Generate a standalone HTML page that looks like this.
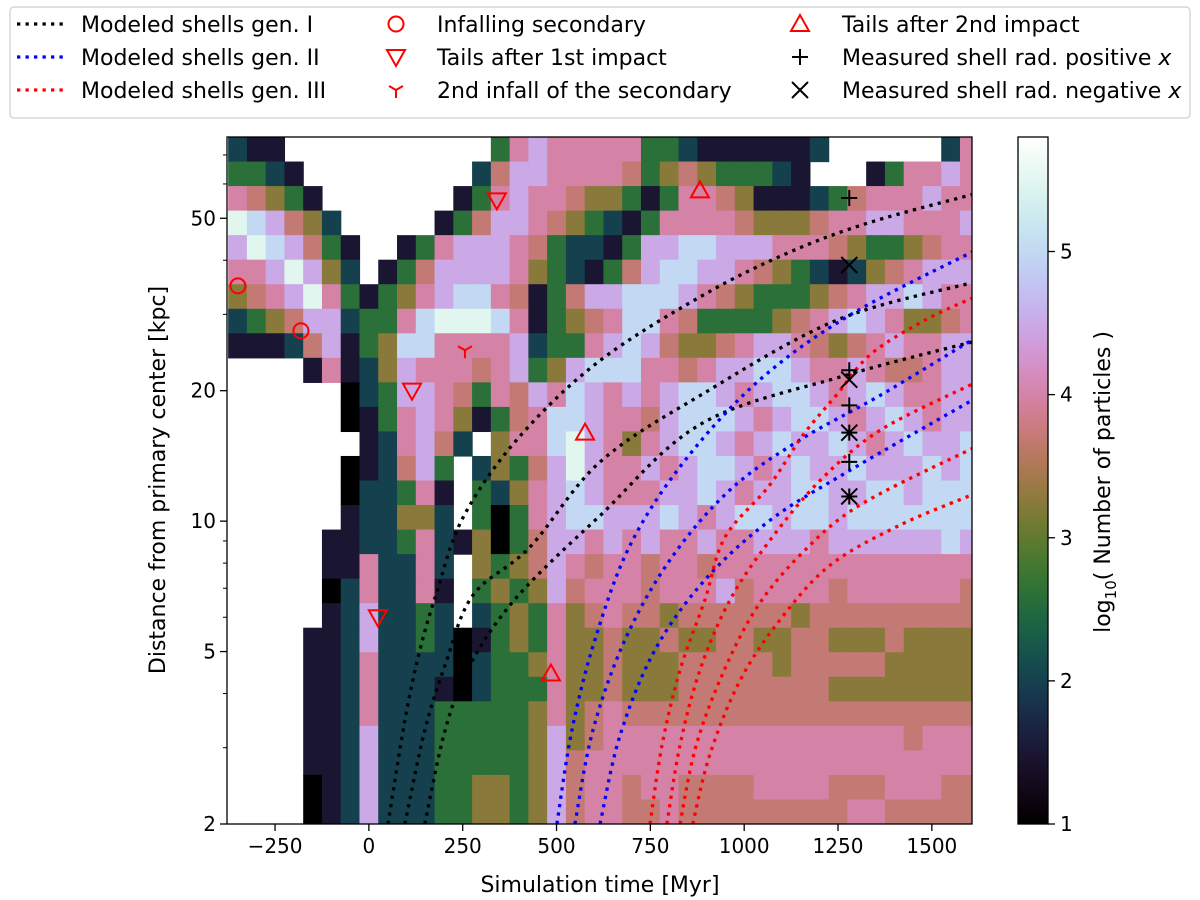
<!DOCTYPE html>
<html><head><meta charset="utf-8"><title>Shell radii vs simulation time</title>
<style>
html,body{margin:0;padding:0;background:#fff;}
svg{display:block;font-family:"DejaVu Sans","Liberation Sans",sans-serif;}
</style></head>
<body>
<svg id="chart" width="1200" height="900" viewBox="0 0 1200 900" xmlns="http://www.w3.org/2000/svg">
<defs><clipPath id="plotclip"><rect x="227" y="137" width="745" height="687"/></clipPath></defs>
<g id="heat" clip-path="url(#plotclip)"></g>
<g id="curves" clip-path="url(#plotclip)"></g>
<g id="marks"></g>
<rect x="227" y="137" width="745" height="687" fill="none" stroke="#000" stroke-width="1.3"/>
<g id="xaxis"></g>
<g id="yaxis"></g>
<text x="600" y="892" font-size="22" text-anchor="middle">Simulation time [Myr]</text>
<text transform="translate(165,480) rotate(-90)" font-size="22" text-anchor="middle">Distance from primary center [kpc]</text>
<g id="cbar"></g>
<text transform="translate(1110,482) rotate(-90)" font-size="22" text-anchor="middle">log<tspan font-size="15" dy="6">10</tspan><tspan dy="-6">( Number of particles )</tspan></text>
<g id="legend">
<rect x="10" y="7" width="1180" height="111" rx="4" fill="#fff" stroke="#cfcfcf" stroke-width="1.2"/>
</g>
</svg>
<script>
// ---------- data ----------
const tStart = -375, tStep = 50;          // column edges (Myr)
const logRTop = Math.log10(77), logRBottom = Math.log10(2); // row range (kpc)
// value for each digit code (log10 N)
const levelValues = [1.0,1.5,2.0,2.6,3.25,3.7,4.0,4.5,5.0,5.5];
// heatmap rows top->bottom, 40 columns; '.'=no particles
const heatRows = [
"211....... ....367666 6633211111 12......26",
"3321...... ...2577666 6534543332 1...136676",
"65431..... ..13676654 4313665411 1235666766",
"987542.... .135776543 2136666544 4566776667",
"7987531..1 3677765322 1377887776 6654334566",
"6679742.13 5777764321 3578877654 3212456777",
"4567963134 6788651357 7888765433 3456778766",
"2345772336 8999861345 6886533334 5678764456",
"1112571348 8666672336 7875445677 6545676677",
"....161247 6665673478 8866567788 7667655677",
"......0237 7653657687 6767887678 8767876677",
"......0136 7641356887 6657888767 8876787677",
".......126 752.466897 6467887678 7787678778",
"......0125 73.2435797 6676788767 8778777878",
"......0223 61.3246787 6667787677 8877887888",
"......1224 42.3036788 7778767887 8878888888",
".....11223 6214035776 7676676677 7677777787",
".....11622 62.4345765 6656656666 6666666666",
".....02622 61.3434756 6656667566 6656666665",
".....12722 32.2343645 6554555555 4555555555",
"....112722 3201343644 5445445544 5544454444",
"....112622 2202334644 5444555554 5555544444",
"....112622 2102333644 5444555555 5544444444",
"....112622 2333334645 6555555555 5555555555",
"....112722 2333334745 6666666666 6666665666",
"....112722 2333334756 6666666666 6666666666",
"....012722 2334434756 6566555566 6655566655",
"....012722 2334434756 6556555555 5556655555"
];
// modeled shells (t in Myr, r in kpc)
const genI_A_t = [51,96,136,181,251,394,608,887,1122,1338,1607];
const genI_A_r = [2,3.47,5.04,6.86,10.2,15.4,23.2,33.1,41.8,49.0,56.7];
const genI_B_t = [96,149,203,277,429,616,887,1247,1607];
const genI_B_r = [2,3.29,4.65,6.74,8.71,13.7,19.6,29.1,35.5];
const genI_C_t = [149,203,269,394,616,887,1271,1607];
const genI_C_r = [2,3.29,4.65,6.67,10.3,16.8,21.7,25.9];
const genII_A_t = [501,541,602,696,842,1042,1282,1607];
const genII_A_r = [2,3.29,5.31,8.8,13.8,21.2,29.9,41.8];
const genII_B_t = [549,597,682,802,962,1149,1362,1607];
const genII_B_r = [2,3.29,5.31,8.13,11.8,15.4,19.5,26.2];
const genII_C_t = [616,669,762,895,1069,1282,1607];
const genII_C_r = [2,3.2,5.04,7.31,10.05,13.1,19.0];
const genIII_A_t = [749,781,829,895,949,1066,1157,1247,1338,1482,1607];
const genIII_A_r = [2,3.04,4.53,6.57,9.18,12.05,15.8,19.6,24.3,29.1,32.7];
const genIII_B_t = [794,829,882,962,1069,1202,1362,1607];
const genIII_B_r = [2,3.04,4.53,6.57,9.04,12.4,16.2,20.7];
const genIII_C_t = [829,869,935,1029,1149,1309,1607];
const genIII_C_r = [2,2.97,4.29,6.23,8.35,10.9,14.7];
const genIII_D_t = [863,909,989,1095,1229,1415,1607];
const genIII_D_r = [2,2.9,4.29,5.91,7.91,9.79,11.5];
// markers
const infall_t = [-349,-181], infall_r = [34.9,27.5];
const tails1_t = [341,115,24], tails1_r = [55,20,6.0];
const infall2_t = [256], infall2_r = [24.8];
const tails2_t = [882,576,485], tails2_r = [58,16,4.45];
const posx_t = [1280,1280,1280,1280,1280,1280], posx_r = [55.7,22.3,18.5,16.0,13.7,11.4];
const negx_t = [1280,1280,1280,1280], negx_r = [39.0,21.2,16.0,11.4];
// ticks
const xTicks = [-250,0,250,500,750,1000,1250,1500];
const xTickLabels = ["\u2212250","0","250","500","750","1000","1250","1500"];
const yMajor = [2,5,10,20,50];
const yMinor = [3,4,6,7,8,9,30,40,60,70];
const cTicks = [1,2,3,4,5];
const cMin = 1, cMax = 5.8;

// ---------- scales ----------
const X0=227, X1=972, Y0=137, Y1=824, TMIN=-378, TMAX=1607, RMIN=2, RMAX=77;
const xs = t => X0 + (t - TMIN) / (TMAX - TMIN) * (X1 - X0);
const ys = r => Y1 - (Math.log10(r) - Math.log10(RMIN)) / (Math.log10(RMAX) - Math.log10(RMIN)) * (Y1 - Y0);
const NS = "http://www.w3.org/2000/svg";
function mk(tag, attrs, parent){ const e=document.createElementNS(NS,tag); for(const k in attrs) e.setAttribute(k,attrs[k]); if(parent) parent.appendChild(e); return e; }
function cubehelix(x){
  x=Math.max(0,Math.min(1,x));
  const a = x*(1-x)/2, phi = 2*Math.PI*(0.5/3 - 1.5*x);
  const c=Math.cos(phi), s=Math.sin(phi);
  const f=v=>Math.round(Math.max(0,Math.min(1,v))*255);
  return `rgb(${f(x+a*(-0.14861*c+1.78277*s))},${f(x+a*(-0.29227*c-0.90649*s))},${f(x+a*(1.97294*c))})`;
}
const cmap = v => cubehelix((v - cMin)/(cMax - cMin));

// ---------- heatmap ----------
const heat = document.getElementById('heat');
const nRows = heatRows.length;
heatRows.forEach((row, i) => {
  const cells = row.replace(/ /g,'');
  const lTop = logRTop - (logRTop - logRBottom) * i / nRows;
  const lBot = logRTop - (logRTop - logRBottom) * (i+1) / nRows;
  const yt = ys(Math.pow(10,lTop)), yb = ys(Math.pow(10,lBot));
  for (let j=0;j<cells.length;j++){
    const ch = cells[j]; if (ch === '.') continue;
    const v = levelValues[parseInt(ch,10)];
    const xl = xs(tStart + j*tStep), xr = xs(tStart + (j+1)*tStep);
    const el = mk('rect',{x:xl.toFixed(2),y:yt.toFixed(2),width:(xr-xl+0.6).toFixed(2),height:(yb-yt+0.6).toFixed(2),fill:cmap(v)},heat);
    
    
  }
});

// ---------- curves ----------
const curves = document.getElementById('curves');
function smoothPath(ts, rs){
  const p = ts.map((t,k)=>[xs(t), ys(rs[k])]);
  let d = `M${p[0][0]},${p[0][1]}`;
  for (let k=0;k<p.length-1;k++){
    const p0=p[k-1]||p[k], p1=p[k], p2=p[k+1], p3=p[k+2]||p[k+1];
    const c1=[p1[0]+(p2[0]-p0[0])/6, p1[1]+(p2[1]-p0[1])/6];
    const c2=[p2[0]-(p3[0]-p1[0])/6, p2[1]-(p3[1]-p1[1])/6];
    d += ` C${c1[0].toFixed(1)},${c1[1].toFixed(1)} ${c2[0].toFixed(1)},${c2[1].toFixed(1)} ${p2[0].toFixed(1)},${p2[1].toFixed(1)}`;
  }
  return d;
}
const shellSets = [
  [genI_A_t,genI_A_r,'#000','shell-gen1-a'],[genI_B_t,genI_B_r,'#000','shell-gen1-b'],[genI_C_t,genI_C_r,'#000','shell-gen1-c'],
  [genII_A_t,genII_A_r,'#0000ff','shell-gen2-a'],[genII_B_t,genII_B_r,'#0000ff','shell-gen2-b'],[genII_C_t,genII_C_r,'#0000ff','shell-gen2-c'],
  [genIII_A_t,genIII_A_r,'#ff0000','shell-gen3-a'],[genIII_B_t,genIII_B_r,'#ff0000','shell-gen3-b'],[genIII_C_t,genIII_C_r,'#ff0000','shell-gen3-c'],[genIII_D_t,genIII_D_r,'#ff0000','shell-gen3-d']
];
shellSets.forEach(s=>{
  const el = mk('path',{d:smoothPath(s[0],s[1]),fill:'none',stroke:s[2],'stroke-width':3.3,'stroke-dasharray':'3.3 5.2'},curves);
  
  
});

// ---------- markers ----------
const marks = document.getElementById('marks');
function marker(type, cx, cy, parent, name){
  let el;
  const red='#ff0000';
  if (type==='circle') el = mk('circle',{cx,cy,r:7.5,fill:'none',stroke:red,'stroke-width':2},parent);
  else if (type==='tdown') el = mk('path',{d:`M${cx-9},${cy-7} L${cx+9},${cy-7} L${cx},${cy+9} Z`,fill:'none',stroke:red,'stroke-width':2},parent);
  else if (type==='tup') el = mk('path',{d:`M${cx-9},${cy+7} L${cx+9},${cy+7} L${cx},${cy-9} Z`,fill:'none',stroke:red,'stroke-width':2},parent);
  else if (type==='tri') el = mk('path',{d:`M${cx},${cy} L${cx},${cy+8} M${cx},${cy} L${cx-7},${cy-4} M${cx},${cy} L${cx+7},${cy-4}`,fill:'none',stroke:red,'stroke-width':2},parent);
  else if (type==='plus') el = mk('path',{d:`M${cx-8},${cy} L${cx+8},${cy} M${cx},${cy-8} L${cx},${cy+8}`,fill:'none',stroke:'#000','stroke-width':2},parent);
  else if (type==='x') el = mk('path',{d:`M${cx-8},${cy-8} L${cx+8},${cy+8} M${cx-8},${cy+8} L${cx+8},${cy-8}`,fill:'none',stroke:'#000','stroke-width':2},parent);
  
  
  return el;
}
infall_t.forEach((t,k)=>marker('circle',xs(t),ys(infall_r[k]),marks,'infalling-secondary-marker'));
tails1_t.forEach((t,k)=>marker('tdown',xs(t),ys(tails1_r[k]),marks,'tails-1st-impact-marker'));
infall2_t.forEach((t,k)=>marker('tri',xs(t),ys(infall2_r[k]),marks,'second-infall-marker'));
tails2_t.forEach((t,k)=>marker('tup',xs(t),ys(tails2_r[k]),marks,'tails-2nd-impact-marker'));
posx_t.forEach((t,k)=>marker('plus',xs(t),ys(posx_r[k]),marks,'measured-positive-x-marker'));
negx_t.forEach((t,k)=>marker('x',xs(t),ys(negx_r[k]),marks,'measured-negative-x-marker'));

// ---------- axes ----------
const xa = document.getElementById('xaxis');
xTicks.forEach((t,k)=>{
  const x = xs(t);
  const tk = mk('line',{x1:x,x2:x,y1:Y1,y2:Y1+7,stroke:'#000','stroke-width':1.3},xa);
  
  
  const lb = mk('text',{x:x,y:Y1+29,'font-size':20,'text-anchor':'middle'},xa);
  lb.textContent = xTickLabels[k];
  
  
});
const ya = document.getElementById('yaxis');
yMajor.forEach(r=>{
  const y = ys(r);
  const tk = mk('line',{x1:X0-7,x2:X0,y1:y,y2:y,stroke:'#000','stroke-width':1.3},ya);
  
  
  const lb = mk('text',{x:X0-11,y:y+7,'font-size':20,'text-anchor':'end'},ya);
  lb.textContent = String(r);
  
  
});
yMinor.forEach(r=>{
  const y = ys(r);
  const tk = mk('line',{x1:X0-4,x2:X0,y1:y,y2:y,stroke:'#000','stroke-width':1},ya);
  
  
});

// ---------- colorbar ----------
const cb = document.getElementById('cbar');
const CBX0=1018, CBX1=1048;
const cbY = v => Y1 - (v - cMin)/(cMax - cMin)*(Y1 - Y0);
for (let k=0;k<200;k++){
  const v0 = cMin + (cMax-cMin)*k/200, v1 = cMin + (cMax-cMin)*(k+1)/200;
  const el = mk('rect',{x:CBX0,y:cbY(v1),width:CBX1-CBX0,height:cbY(v0)-cbY(v1)+0.5,fill:cmap((v0+v1)/2)},cb);
  
  
}
const cbf = mk('rect',{x:CBX0,y:Y0,width:CBX1-CBX0,height:Y1-Y0,fill:'none',stroke:'#000','stroke-width':1.3},cb);


cTicks.forEach(v=>{
  const y = cbY(v);
  const tk = mk('line',{x1:CBX1,x2:CBX1+7,y1:y,y2:y,stroke:'#000','stroke-width':1.3},cb);
  
  
  const lb = mk('text',{x:CBX1+12,y:y+7,'font-size':20},cb);
  lb.textContent = String(v);
  
  
});

// ---------- legend ----------
const lg = document.getElementById('legend');
const legRows = [24,57,90];
const lineEntries = [['#000','Modeled shells gen. I'],['#0000ff','Modeled shells gen. II'],['#ff0000','Modeled shells gen. III']];
lineEntries.forEach((e,k)=>{
  const g = mk('g',{},lg);
  
  
  mk('line',{x1:17,x2:64,y1:legRows[k],y2:legRows[k],stroke:e[0],'stroke-width':3.3,'stroke-dasharray':'3.3 5.2'},g);
  const t = mk('text',{x:81,y:legRows[k]+8,'font-size':22},g); t.textContent = e[1];
});
const mEntries = [
  ['circle',396,legRows[0],'Infalling secondary'],['tdown',396,legRows[1],'Tails after 1st impact'],['tri',396,legRows[2],'2nd infall of the secondary'],
  ['tup',800,legRows[0],'Tails after 2nd impact'],['plus',800,legRows[1],'Measured shell rad. positive '],['x',800,legRows[2],'Measured shell rad. negative ']
];
mEntries.forEach((e,k)=>{
  const g = mk('g',{},lg);
  
  
  marker(e[0], e[1], e[2], g, 'legend-marker');
  const t = mk('text',{x:e[1] < 500 ? 437 : 842,y:e[2]+8,'font-size':22},g);
  t.textContent = e[3];
  if (k>=4){ const it = mk('tspan',{'font-style':'italic'},t); it.textContent='x'; }
});
</script>
</body></html>
